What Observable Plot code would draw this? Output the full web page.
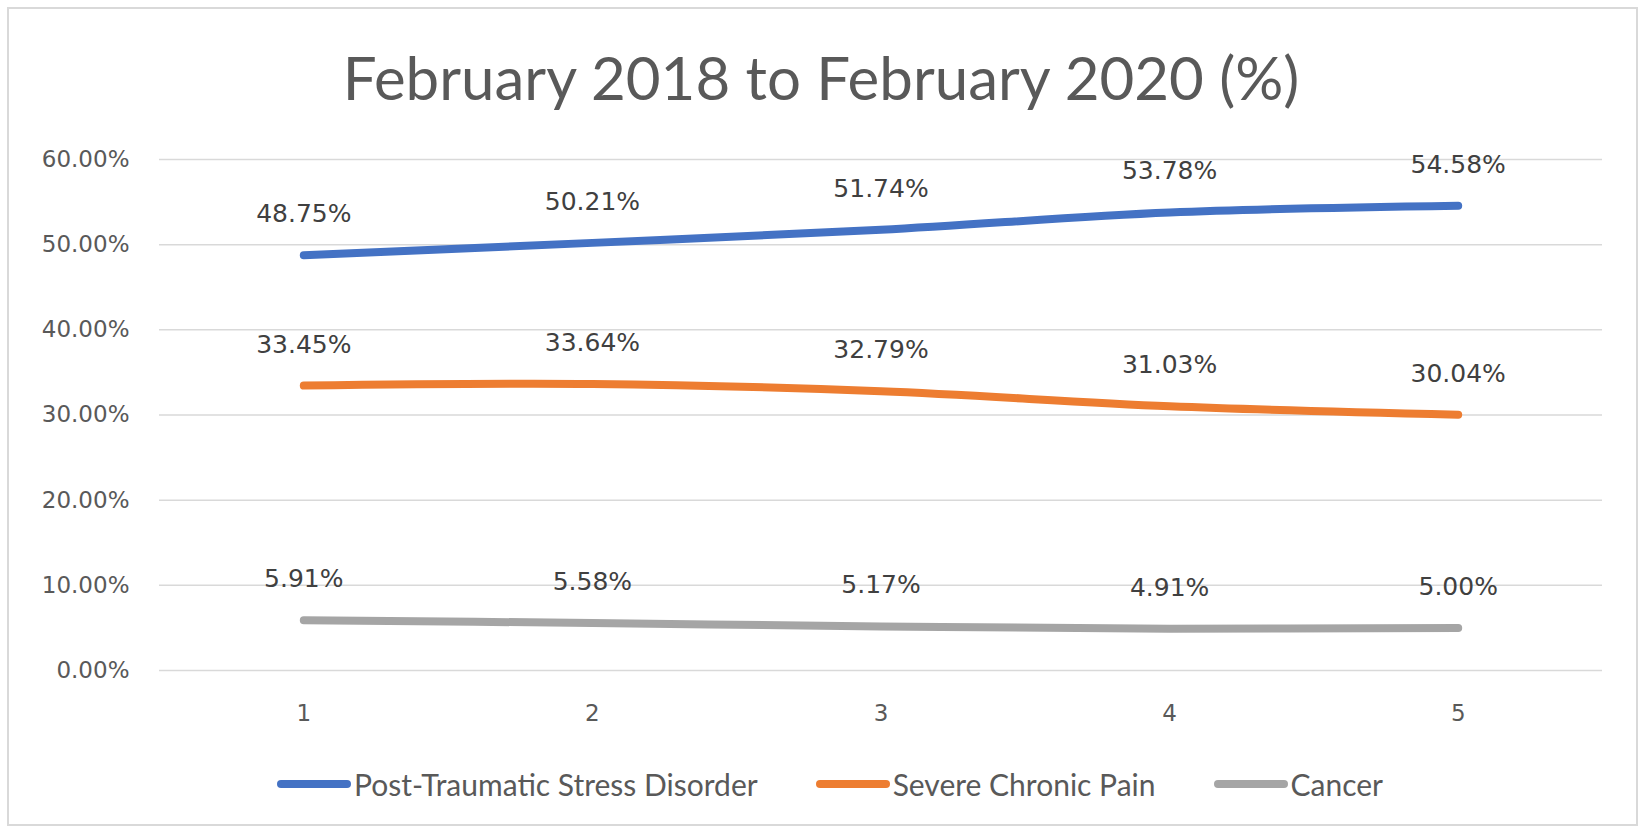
<!DOCTYPE html>
<html>
<head>
<meta charset="utf-8">
<script src="https://cdn.jsdelivr.net/npm/d3@7"></script>
<script src="https://cdn.jsdelivr.net/npm/@observablehq/plot@0.6"></script>
<style>
  html, body { margin: 0; padding: 0; background: #fff; }
  #wrap { position: relative; width: 1642px; height: 833px; overflow: hidden; }
  #frame { position: absolute; left: 7px; top: 7px; width: 1631px; height: 819px; border: 2px solid #D9D9D9; box-sizing: border-box; }
  #title { position: absolute; left: 0; width: 1642px; top: 39px; text-align: center;
           font-family: Lato, "Liberation Sans", sans-serif; font-size: 60px; color: #595959; line-height: 76px; }
  #chart { position: absolute; left: 0; top: 0; }
  #legend { position: absolute; left: 9px; width: 1642px; top: 766px; display: flex; justify-content: center;
            font-family: Lato, "Liberation Sans", sans-serif; font-size: 30px; color: #595959; }
  .item { display: flex; align-items: center; margin: 0 29px; }
  .sw { width: 74px; height: 8px; border-radius: 4px; margin-right: 3px; }
</style>
</head>
<body>
<div id="wrap">
  <div id="frame"></div>
  <div id="chart"></div>
  <div id="title"></div>
  <div id="legend"></div>
</div>
<script>
const title = "February 2018 to February 2020 (%)";
const categories = [1, 2, 3, 4, 5];
const seriesNames = ["Post-Traumatic Stress Disorder", "Severe Chronic Pain", "Cancer"];
const ptsd = [48.75, 50.21, 51.74, 53.78, 54.58];
const pain = [33.45, 33.64, 32.79, 31.03, 30.04];
const cancer = [5.91, 5.58, 5.17, 4.91, 5.00];
const colors = ["#4472C4", "#ED7D31", "#A5A5A5"];
const yTicks = [0, 10, 20, 30, 40, 50, 60];

const seriesValues = [ptsd, pain, cancer];
const data = [];
seriesNames.forEach((name, i) => {
  categories.forEach((c, j) => data.push({series: name, x: c, y: seriesValues[i][j]}));
});

document.getElementById("title").textContent = title;

const chart = Plot.plot({
  width: 1642,
  height: 833,
  marginLeft: 159,
  marginRight: 40,
  marginTop: 159,
  marginBottom: 163,
  style: {fontFamily: "'DejaVu Sans', sans-serif", background: "transparent", color: "#595959"},
  x: {domain: [0.5, 5.5], ticks: categories, tickFormat: d => String(d), tickSize: 0, tickPadding: 34, label: null},
  y: {domain: [0, 60], ticks: yTicks, tickFormat: d => d.toFixed(2) + "%", tickSize: 0, tickPadding: 30, label: null},
  color: {domain: seriesNames, range: colors},
  marks: [
    Plot.ruleY(yTicks, {stroke: "#D9D9D9", strokeWidth: 1.5}),
    Plot.axisX({ticks: categories, tickFormat: d => String(d), tickSize: 0, tickPadding: 34, fontSize: 23, fill: "#595959", label: null}),
    Plot.axisY({ticks: yTicks, tickFormat: d => d.toFixed(2) + "%", tickSize: 0, tickPadding: 30, fontSize: 23, fill: "#595959", label: null}),
    Plot.line(data, {x: "x", y: "y", z: "series", stroke: "series", strokeWidth: 8, curve: "catmull-rom", strokeLinecap: "round", strokeLinejoin: "round"}),
    Plot.text(data, {x: "x", y: "y", text: d => d.y.toFixed(2) + "%", dy: -41, fontSize: 25, fill: "#404040"})
  ]
});
document.getElementById("chart").appendChild(chart);

const legend = document.getElementById("legend");
seriesNames.forEach((name, i) => {
  const it = document.createElement("div");
  it.className = "item";
  const sw = document.createElement("div");
  sw.className = "sw";
  sw.style.background = colors[i];
  const tx = document.createElement("span");
  tx.textContent = name;
  it.appendChild(sw);
  it.appendChild(tx);
  legend.appendChild(it);
});
</script>
</body>
</html>
